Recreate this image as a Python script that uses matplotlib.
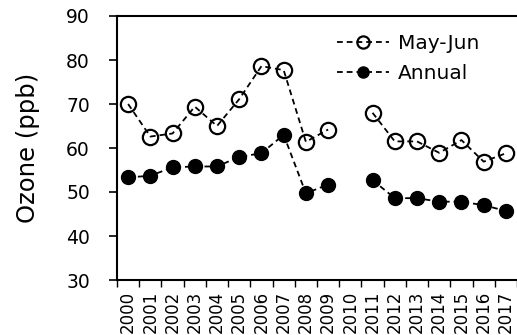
import numpy as np
import matplotlib
matplotlib.use("Agg")
import matplotlib.pyplot as plt

years = [str(y) for y in range(2000, 2018)]
may_jun = [70.0, 62.6, 63.3, 69.4, 65.0, 71.1, 78.6, 77.7, 61.4, 64.2, np.nan,
           68.0, 61.5, 61.5, 58.9, 61.8, 56.9, 58.8]
annual = [53.3, 53.7, 55.6, 55.8, 55.8, 58.0, 58.8, 63.0, 49.7, 51.7, np.nan,
          52.7, 48.6, 48.6, 47.8, 47.8, 47.0, 45.7]
y_ticks = [30, 40, 50, 60, 70, 80, 90]

plt.rcParams['font.family'] = ['DejaVu Sans']
fig = plt.figure(figsize=(5.17, 3.35), dpi=100)
ax = fig.add_axes([117/517, 55/335, 400/517, 264/335])

x = np.arange(len(years))
dash = (0, (3.2, 2.2))
ax.plot(x, may_jun, linestyle=dash, color='black', linewidth=1.3,
        marker='o', markersize=11, markerfacecolor='none',
        markeredgecolor='black', markeredgewidth=1.6, label='May-Jun')
ax.plot(x, annual, linestyle=dash, color='black', linewidth=1.3,
        marker='o', markersize=10, markerfacecolor='black',
        markeredgecolor='black', label='Annual')

ax.set_xlim(-0.5, len(years) - 0.5)
ax.set_ylim(30, 90)
ax.set_yticks(y_ticks)
ax.tick_params(axis='y', labelsize=13.5, length=5.5, width=1.2, pad=14)

ax.set_xticks(np.arange(-0.5, len(years), 1.0))
ax.set_xticklabels([])
ax.set_xticks(x, minor=True)
ax.set_xticklabels(years, minor=True, rotation=90, fontsize=12)
ax.tick_params(axis='x', which='major', length=5, width=1.0, direction='out')
ax.tick_params(axis='x', which='minor', length=0, pad=7.5)

ax.set_ylabel('Ozone (ppb)', fontsize=17.5, labelpad=19)

for s in ['left', 'bottom', 'top']:
    ax.spines[s].set_linewidth(1.5)
ax.spines['right'].set_visible(False)

leg = ax.legend(loc='upper left', bbox_to_anchor=(0.52, 0.979), frameon=False,
                fontsize=14.5, handlelength=2.6, handletextpad=0.4,
                labelspacing=0.55, markerscale=0.8, borderaxespad=0.2)

fig.savefig('out.png', dpi=100)
